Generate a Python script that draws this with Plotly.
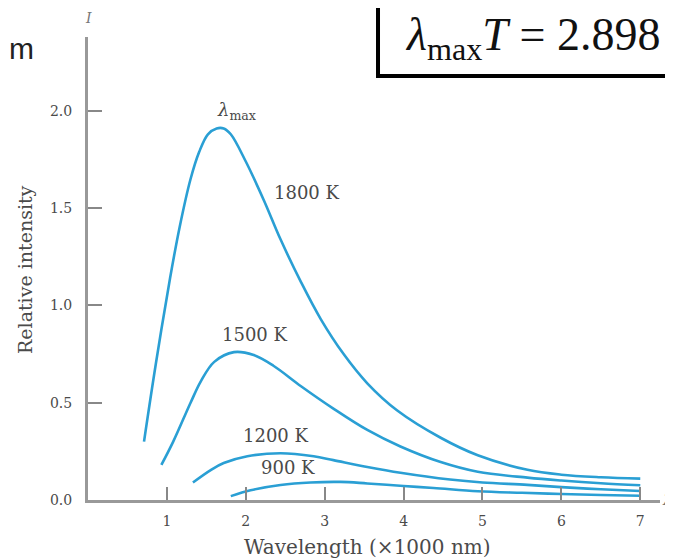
import plotly.graph_objects as go

# ---- data ----
wl_1800 = [0.71, 0.86, 1.04, 1.16, 1.30, 1.41, 1.52, 1.63, 1.72, 1.81, 2.00, 2.23, 2.44, 2.70, 2.95, 3.24, 3.54, 3.92, 4.47, 4.94, 5.57, 6.0, 6.5, 7.0]
I_1800 = [0.30, 0.70, 1.14, 1.40, 1.65, 1.79, 1.88, 1.91, 1.91, 1.88, 1.74, 1.54, 1.34, 1.12, 0.93, 0.75, 0.60, 0.46, 0.32, 0.23, 0.155, 0.13, 0.117, 0.11]

wl_1500 = [0.93, 1.08, 1.30, 1.43, 1.60, 1.85, 2.10, 2.35, 2.70, 3.11, 3.54, 3.96, 4.47, 4.94, 5.57, 6.0, 6.5, 7.0]
I_1500 = [0.18, 0.30, 0.50, 0.61, 0.71, 0.76, 0.745, 0.69, 0.585, 0.47, 0.36, 0.275, 0.195, 0.145, 0.115, 0.10, 0.086, 0.076]

wl_1200 = [1.33, 1.56, 1.72, 2.02, 2.44, 2.86, 3.11, 3.54, 3.96, 4.59, 5.0, 5.57, 6.0, 6.5, 7.0]
I_1200 = [0.09, 0.155, 0.19, 0.225, 0.24, 0.225, 0.205, 0.17, 0.14, 0.105, 0.09, 0.078, 0.066, 0.055, 0.046]

wl_900 = [1.81, 2.06, 2.44, 2.82, 3.2, 3.54, 4.0, 4.38, 4.94, 5.5, 6.0, 6.5, 7.0]
I_900 = [0.02, 0.05, 0.077, 0.09, 0.093, 0.085, 0.072, 0.062, 0.045, 0.037, 0.031, 0.026, 0.022]

x_ticks = [1, 2, 3, 4, 5, 6, 7]
y_ticks = [0.0, 0.5, 1.0, 1.5, 2.0]

curve_labels = ["1800 K", "1500 K", "1200 K", "900 K"]
label_x = [2.78, 2.12, 2.38, 2.54]
label_y = [1.58, 0.85, 0.33, 0.165]

LINE = "#2a9fd4"
TXT = "#4a4a4a"
SERIF = "DejaVu Serif, serif"
TIMES = "Liberation Serif, Times New Roman, serif"

fig = go.Figure()
for wl, inten in [(wl_1800, I_1800), (wl_1500, I_1500), (wl_1200, I_1200), (wl_900, I_900)]:
    fig.add_trace(go.Scatter(x=wl, y=inten, mode="lines",
                             line=dict(color=LINE, width=2.6, shape="spline", smoothing=1.0),
                             showlegend=False, hoverinfo="skip"))

def ann(**kw):
    base = dict(showarrow=False, xanchor="center", yanchor="middle")
    base.update(kw)
    return base

annotations = []
for t, x, y in zip(curve_labels, label_x, label_y):
    annotations.append(ann(x=x, y=y, xref="x", yref="y", text=t,
                           font=dict(family=SERIF, size=18, color=TXT)))
annotations.append(ann(x=1.88, y=2.0, xref="x", yref="y", text="<i>λ</i><sub>max</sub>",
                       font=dict(family=SERIF, size=18, color=TXT)))
# axis titles
annotations.append(ann(x=-0.11, y=0.497, xref="paper", yref="paper", text="Relative intensity",
                       textangle=-90, font=dict(family=SERIF, size=19, color=TXT)))
annotations.append(ann(x=0.488, y=-0.101, xref="paper", yref="paper", text="Wavelength (×1000 nm)",
                       font=dict(family=SERIF, size=20, color=TXT)))
# axis end symbols
annotations.append(ann(x=0.0, y=1.04, xref="paper", yref="paper", text="<i>I</i>",
                       font=dict(family=SERIF, size=14, color="#777")))
annotations.append(ann(x=1.0, y=0.0, xref="paper", yref="paper", xanchor="left", text="<i>λ</i>",
                       font=dict(family=SERIF, size=15, color="#777")))
# cut-off slide text
annotations.append(ann(x=-0.117, y=0.976, xref="paper", yref="paper", text="m",
                       font=dict(family="Liberation Sans, Arial, sans-serif", size=30, color="#222")))
# Wien's law box text
annotations.append(ann(x=0.551, y=0.998, xref="paper", yref="paper", xanchor="left",
                       text="<i>λ</i><sub>max</sub><i>T</i> = 2.898",
                       font=dict(family=TIMES, size=46, color="#111")))

fig.add_shape(type="rect", xref="paper", yref="paper", x0=0.507, x1=1.2, y0=0.916, y1=1.3,
              line=dict(color="black", width=4), fillcolor="rgba(0,0,0,0)")

# the page adds an 8 px body margin, so the figure is 8 px smaller and margins shifted
fig.update_layout(
    width=665, height=552,
    margin=dict(l=80, r=13, t=29, b=60),
    paper_bgcolor="white", plot_bgcolor="white",
    annotations=annotations,
    xaxis=dict(range=[0, 7.25], tickvals=x_ticks, ticktext=[str(v) for v in x_ticks],
               showline=True, linecolor="#999", linewidth=3, mirror=False,
               ticks="inside", ticklen=13, tickwidth=2, tickcolor="#888",
               showgrid=False, zeroline=False, ticklabelstandoff=6,
               tickfont=dict(family=SERIF, size=14, color=TXT)),
    yaxis=dict(range=[0, 2.38], tickvals=y_ticks, tickformat=".1f",
               showline=True, linecolor="#999", linewidth=3, mirror=False,
               ticks="inside", ticklen=14, tickwidth=2, tickcolor="#888",
               showgrid=False, zeroline=False, ticklabelstandoff=10,
               tickfont=dict(family=SERIF, size=14, color=TXT)),
)

fig.write_html("out.html")
